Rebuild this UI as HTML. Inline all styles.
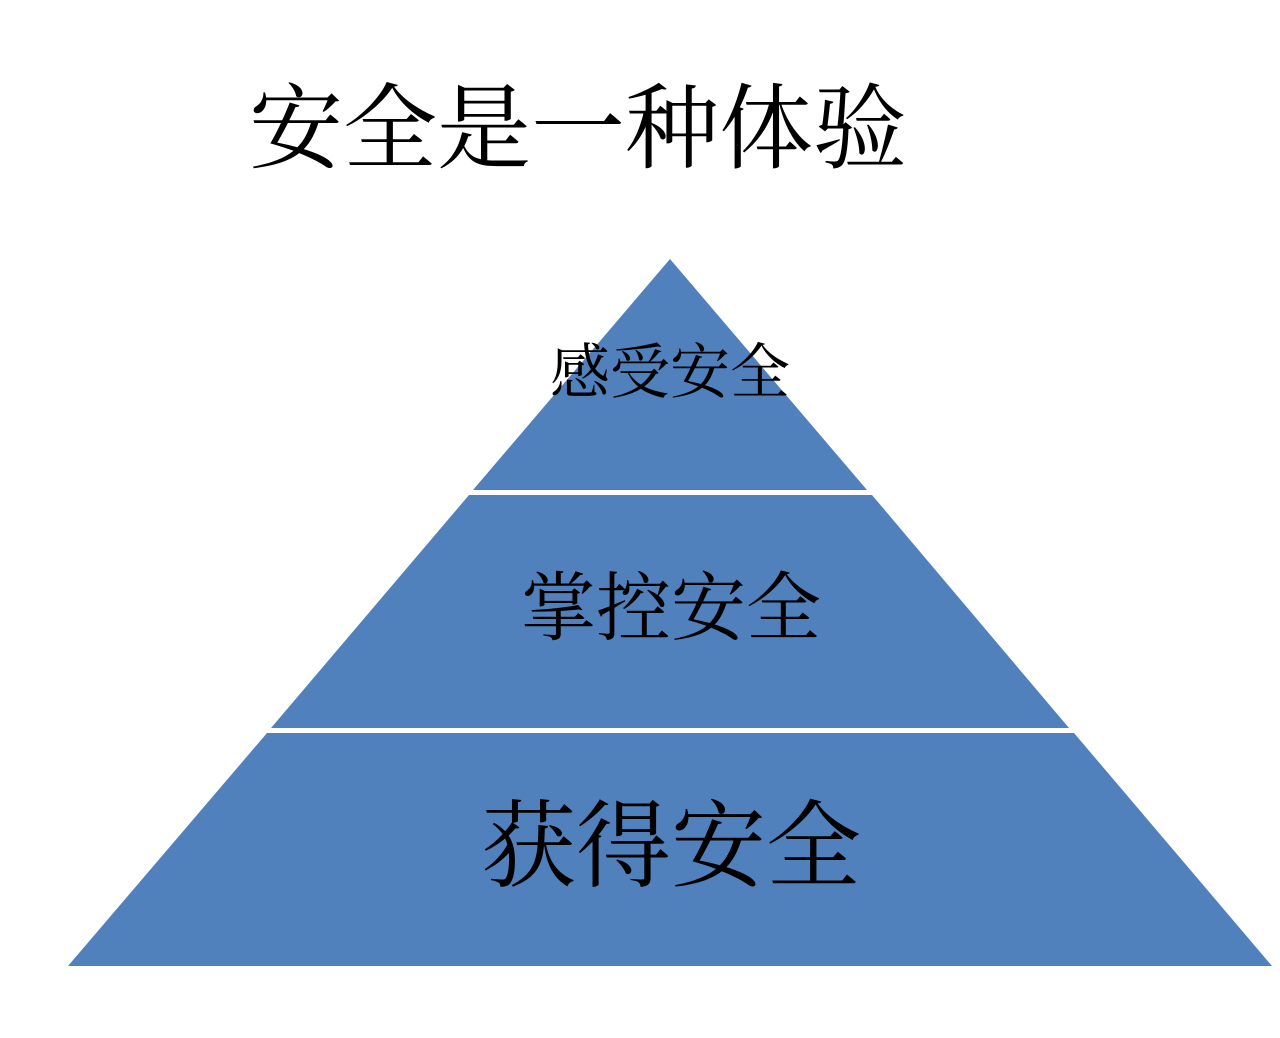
<!DOCTYPE html>
<html><head><meta charset="utf-8"><style>
html,body{margin:0;padding:0;background:#fff;}
svg{display:block;}
text{font-family:"Liberation Serif","Noto Serif CJK SC",serif;fill:#000;}
</style></head><body>
<svg width="1280" height="1038" viewBox="0 0 1280 1038" xmlns="http://www.w3.org/2000/svg">
<rect width="1280" height="1038" fill="#fff"/>
<text x="249" y="161" font-size="93" textLength="658" lengthAdjust="spacingAndGlyphs">安全是一种体验</text>
<polygon points="670,259 867,490 473,490" fill="#5181bc"/>
<polygon points="469,495 872,495 1069,728 271,728" fill="#5181bc"/>
<polygon points="267,733 1074,733 1272,966 68,966" fill="#5181bc"/>
<text x="670" y="393" font-size="60" text-anchor="middle">感受安全</text>
<text x="671" y="634" font-size="75" text-anchor="middle">掌控安全</text>
<text x="671" y="879" font-size="95" text-anchor="middle">获得安全</text>
</svg>
</body></html>
